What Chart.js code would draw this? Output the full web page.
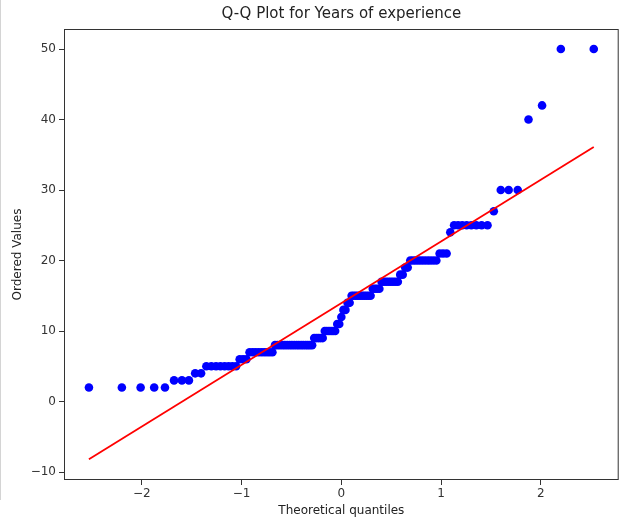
<!DOCTYPE html>
<html>
<head>
<meta charset="utf-8">
<title>Q-Q Plot</title>
<script src="https://cdn.jsdelivr.net/npm/chart.js@4.4.0/dist/chart.umd.min.js"></script>
<style>
  html, body { margin: 0; padding: 0; background: #fff; }
  canvas { display: block; }
</style>
</head>
<body>
<canvas id="qqChart" width="623" height="522"></canvas>
<script>
// theoretical normal quantiles (x) for the 121 sorted observations
const quantiles = [
  -2.530, -2.200, -2.012, -1.876, -1.768, -1.677, -1.598, -1.528, -1.465, -1.406,
  -1.353, -1.303, -1.256, -1.212, -1.170, -1.130, -1.092, -1.055, -1.019, -0.985,
  -0.952, -0.920, -0.889, -0.860, -0.830, -0.801, -0.773, -0.745, -0.718, -0.691,
  -0.665, -0.640, -0.615, -0.590, -0.566, -0.542, -0.518, -0.495, -0.472, -0.448,
  -0.426, -0.403, -0.381, -0.358, -0.337, -0.315, -0.293, -0.272, -0.250, -0.229,
  -0.208, -0.187, -0.166, -0.145, -0.124, -0.103, -0.083, -0.062, -0.041, -0.021,
  0.000,
  0.021, 0.041, 0.062, 0.083, 0.103, 0.124, 0.145, 0.166, 0.187, 0.208,
  0.229, 0.250, 0.272, 0.293, 0.315, 0.337, 0.358, 0.381, 0.403, 0.426,
  0.448, 0.472, 0.495, 0.518, 0.542, 0.566, 0.590, 0.615, 0.640, 0.665,
  0.691, 0.718, 0.745, 0.773, 0.801, 0.830, 0.860, 0.889, 0.920, 0.952,
  0.985, 1.019, 1.055, 1.092, 1.130, 1.170, 1.212, 1.256, 1.303, 1.353,
  1.406, 1.465, 1.528, 1.598, 1.677, 1.768, 1.876, 2.012, 2.200, 2.530
];

// years of experience, sorted
const orderedValues = [
  2, 2, 2, 2, 2, 3, 3, 3, 4, 4,
  5, 5, 5, 5, 5, 5, 5, 5, 6, 6,
  6, 7, 7, 7, 7, 7, 7, 7, 7, 7,
  8, 8, 8, 8, 8, 8, 8, 8, 8, 8,
  8, 8, 8, 8, 8, 8, 8, 9, 9, 9,
  9, 9, 10, 10, 10, 10, 10, 10, 11, 11,
  12,
  13, 13, 14, 14, 15, 15, 15, 15, 15, 15,
  15, 15, 15, 15, 16, 16, 16, 16, 17, 17,
  17, 17, 17, 17, 17, 17, 18, 18, 19, 19,
  20, 20, 20, 20, 20, 20, 20, 20, 20, 20,
  21, 21, 21, 24, 25, 25, 25, 25, 25, 25,
  25, 25, 27, 30, 30, 30, 40, 42, 50, 50
];

// least-squares reference line end points
const fitX = [-2.530, 2.530];
const fitY = [-8.2, 36.1];

const xTicks = [-2, -1, 0, 1, 2];
const yTicks = [-10, 0, 10, 20, 30, 40, 50];

const points = quantiles.map((q, i) => ({ x: q, y: orderedValues[i] }));
const fitLine = fitX.map((x, i) => ({ x: x, y: fitY[i] }));

const fmt = v => (v < 0 ? '\u2212' + Math.abs(v) : String(v));

// frame around the plotting area plus the thin rule at the left edge
const framePlugin = {
  id: 'frame',
  afterDraw(chart) {
    const { ctx, chartArea: a } = chart;
    ctx.save();
    ctx.strokeStyle = '#333';
    ctx.lineWidth = 1;
    ctx.strokeRect(a.left + 0.5, a.top + 0.5, a.right - a.left - 1, a.bottom - a.top - 1);
    ctx.strokeStyle = '#d4d4d4';
    ctx.beginPath();
    ctx.moveTo(0.5, 0);
    ctx.lineTo(0.5, 500);
    ctx.stroke();
    ctx.restore();
  }
};

const tickFont = { family: 'DejaVu Sans', size: 12 };
const labelFont = { family: 'DejaVu Sans', size: 12 };

new Chart(document.getElementById('qqChart').getContext('2d'), {
  type: 'scatter',
  data: {
    datasets: [
      {
        label: 'data',
        data: points,
        backgroundColor: '#0000ff',
        borderWidth: 0,
        pointRadius: 4.3,
        pointHoverRadius: 4.3,
        order: 2
      },
      {
        label: 'fit',
        type: 'line',
        data: fitLine,
        borderColor: '#ff0000',
        borderWidth: 1.8,
        pointRadius: 0,
        fill: false,
        order: 1
      }
    ]
  },
  options: {
    responsive: false,
    animation: false,
    layout: { padding: { left: 0, right: 2, top: 0, bottom: 0 } },
    plugins: {
      legend: { display: false },
      tooltip: { enabled: false },
      title: {
        display: true,
        fullSize: false,
        text: 'Q-Q Plot for Years of experience',
        color: '#222',
        font: { family: 'DejaVu Sans', size: 15, weight: 'normal' },
        padding: { top: 5, bottom: 6 }
      }
    },
    scales: {
      x: {
        type: 'linear',
        min: -2.78,
        max: 2.78,
        afterBuildTicks: s => { s.ticks = xTicks.map(v => ({ value: v })); },
        afterFit: s => { s.height = 42; },
        grid: { drawOnChartArea: false, drawTicks: true, tickLength: 5, color: '#333' },
        border: { display: false },
        ticks: { color: '#333', font: tickFont, padding: 2, maxRotation: 0, callback: v => fmt(v) },
        title: {
          display: true,
          text: 'Theoretical quantiles',
          color: '#222',
          font: labelFont,
          padding: { top: 0, bottom: 4 }
        }
      },
      y: {
        type: 'linear',
        min: -11.13,
        max: 52.84,
        afterBuildTicks: s => { s.ticks = yTicks.map(v => ({ value: v })); },
        afterFit: s => { s.width = 64; },
        grid: { drawOnChartArea: false, drawTicks: true, tickLength: 5, color: '#333' },
        border: { display: false },
        ticks: { color: '#333', font: tickFont, padding: 3, callback: v => fmt(v) },
        title: {
          display: true,
          text: 'Ordered Values',
          color: '#222',
          font: labelFont,
          padding: { top: 11, bottom: 0 }
        }
      }
    }
  },
  plugins: [framePlugin]
});
</script>
</body>
</html>
